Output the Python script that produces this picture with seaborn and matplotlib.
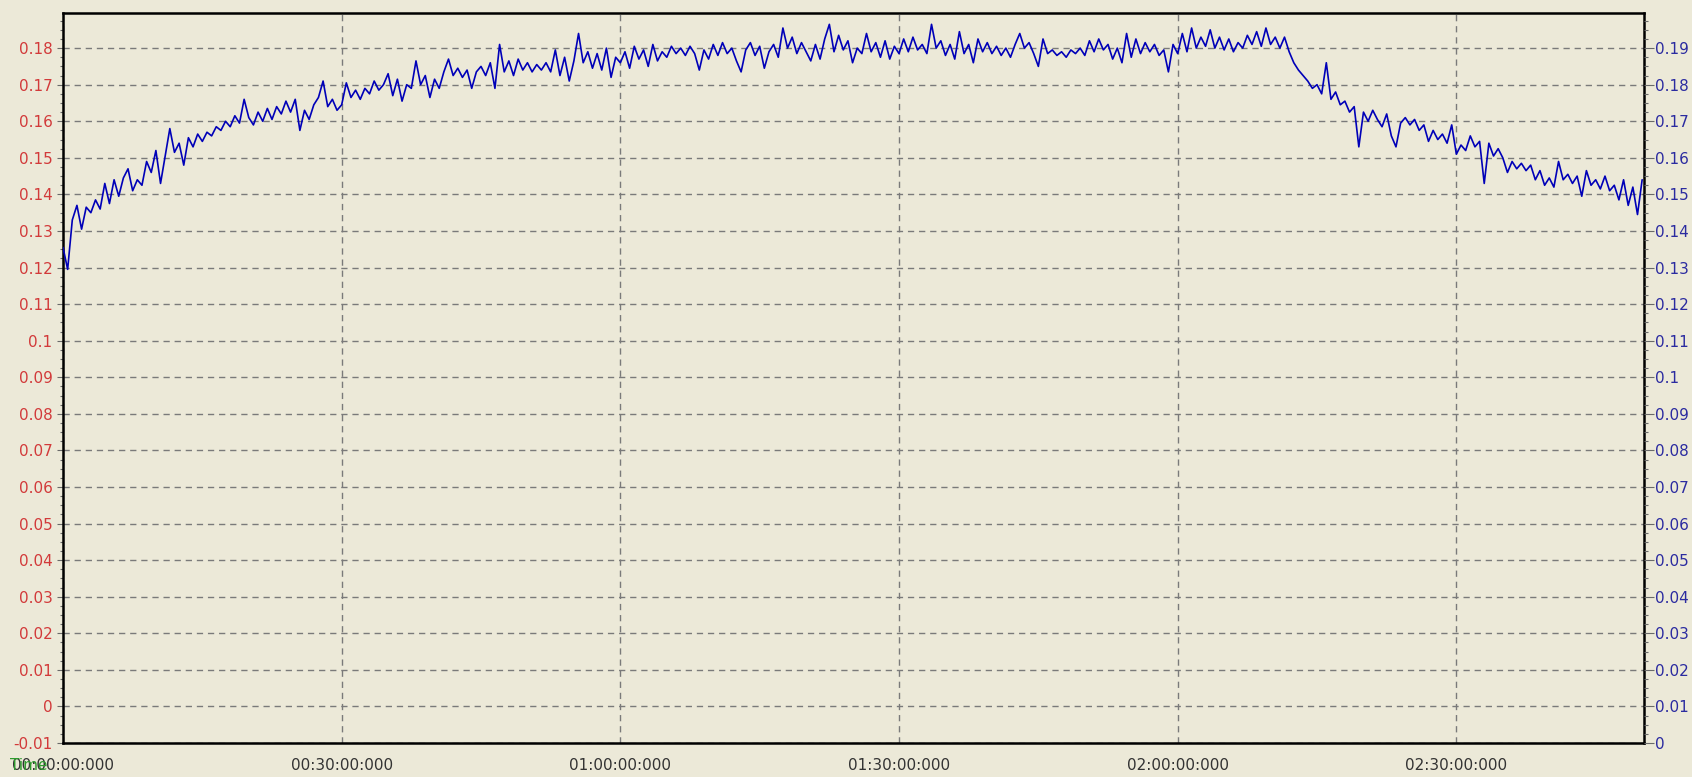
import numpy as np
import pandas as pd
import matplotlib
matplotlib.use("Agg")
import matplotlib.pyplot as plt
import seaborn as sns
from matplotlib.ticker import FixedLocator, MultipleLocator, FuncFormatter

# Sensor reading sampled every half minute, one row per 10 minutes
sample_step_min = 0.5
reading = [
    0.1255, 0.1195, 0.1330, 0.1370, 0.1305, 0.1365, 0.1350, 0.1385, 0.1360, 0.1430,
    0.1375, 0.1440, 0.1395, 0.1445, 0.1470, 0.1410, 0.1440, 0.1425, 0.1490, 0.1460,
    0.1520, 0.1430, 0.1505, 0.1580, 0.1515, 0.1540, 0.1480, 0.1555, 0.1530, 0.1565,
    0.1545, 0.1570, 0.1560, 0.1585, 0.1575, 0.1600, 0.1585, 0.1615, 0.1595, 0.1660,
    0.1610, 0.1590, 0.1625, 0.1600, 0.1635, 0.1605, 0.1640, 0.1620, 0.1655, 0.1625,
    0.1660, 0.1575, 0.1630, 0.1605, 0.1645, 0.1665, 0.1710, 0.1640, 0.1660, 0.1630,
    0.1645, 0.1705, 0.1665, 0.1685, 0.1660, 0.1690, 0.1675, 0.1710, 0.1685, 0.1700,
    0.1730, 0.1670, 0.1715, 0.1655, 0.1700, 0.1690, 0.1765, 0.1700, 0.1725, 0.1665,
    0.1715, 0.1690, 0.1735, 0.1770, 0.1725, 0.1745, 0.1720, 0.1740, 0.1690, 0.1735,
    0.1750, 0.1725, 0.1760, 0.1690, 0.1810, 0.1735, 0.1765, 0.1725, 0.1770, 0.1740,
    0.1760, 0.1735, 0.1755, 0.1740, 0.1760, 0.1735, 0.1795, 0.1725, 0.1775, 0.1710,
    0.1765, 0.1840, 0.1760, 0.1790, 0.1745, 0.1785, 0.1740, 0.1800, 0.1720, 0.1775,
    0.1760, 0.1790, 0.1745, 0.1805, 0.1770, 0.1795, 0.1750, 0.1810, 0.1765, 0.1790,
    0.1775, 0.1805, 0.1785, 0.1800, 0.1780, 0.1805, 0.1785, 0.1740, 0.1795, 0.1770,
    0.1810, 0.1780, 0.1815, 0.1785, 0.1800, 0.1765, 0.1735, 0.1795, 0.1815, 0.1780,
    0.1805, 0.1745, 0.1790, 0.1810, 0.1775, 0.1855, 0.1800, 0.1830, 0.1785, 0.1815,
    0.1790, 0.1765, 0.1810, 0.1770, 0.1825, 0.1865, 0.1790, 0.1835, 0.1795, 0.1820,
    0.1760, 0.1800, 0.1785, 0.1840, 0.1790, 0.1815, 0.1775, 0.1820, 0.1770, 0.1805,
    0.1785, 0.1825, 0.1790, 0.1830, 0.1795, 0.1810, 0.1785, 0.1865, 0.1800, 0.1820,
    0.1780, 0.1810, 0.1770, 0.1845, 0.1785, 0.1810, 0.1760, 0.1825, 0.1790, 0.1815,
    0.1785, 0.1805, 0.1780, 0.1800, 0.1775, 0.1810, 0.1840, 0.1800, 0.1815, 0.1785,
    0.1750, 0.1825, 0.1785, 0.1795, 0.1780, 0.1790, 0.1775, 0.1795, 0.1785, 0.1800,
    0.1780, 0.1820, 0.1790, 0.1825, 0.1795, 0.1810, 0.1770, 0.1800, 0.1760, 0.1840,
    0.1775, 0.1825, 0.1785, 0.1815, 0.1790, 0.1810, 0.1780, 0.1795, 0.1735, 0.1810,
    0.1785, 0.1840, 0.1790, 0.1855, 0.1800, 0.1830, 0.1805, 0.1850, 0.1800, 0.1830,
    0.1795, 0.1825, 0.1790, 0.1815, 0.1800, 0.1835, 0.1810, 0.1845, 0.1805, 0.1855,
    0.1810, 0.1830, 0.1800, 0.1830, 0.1790, 0.1760, 0.1740, 0.1725, 0.1710, 0.1690,
    0.1700, 0.1675, 0.1760, 0.1660, 0.1680, 0.1645, 0.1655, 0.1625, 0.1640, 0.1530,
    0.1625, 0.1600, 0.1630, 0.1605, 0.1585, 0.1620, 0.1560, 0.1530, 0.1595, 0.1610,
    0.1590, 0.1605, 0.1575, 0.1590, 0.1545, 0.1575, 0.1550, 0.1565, 0.1540, 0.1590,
    0.1510, 0.1535, 0.1520, 0.1560, 0.1530, 0.1545, 0.1430, 0.1540, 0.1505, 0.1525,
    0.1500, 0.1460, 0.1490, 0.1470, 0.1485, 0.1465, 0.1480, 0.1440, 0.1465, 0.1425,
    0.1445, 0.1420, 0.1490, 0.1440, 0.1455, 0.1430, 0.1450, 0.1395, 0.1465, 0.1425,
    0.1440, 0.1415, 0.1450, 0.1410, 0.1425, 0.1385, 0.1440, 0.1370, 0.1420, 0.1345,
    0.1440,
]

time_ticks_min = [0, 30, 60, 90, 120, 150]
time_tick_labels = ["00:00:00:000", "00:30:00:000", "01:00:00:000",
                    "01:30:00:000", "02:00:00:000", "02:30:00:000"]
left_ticks = [round(-0.01 + 0.01 * i, 2) for i in range(20)]
right_ticks = [round(0.01 * i, 2) for i in range(20)]

df = pd.DataFrame({
    "minutes": np.arange(len(reading)) * sample_step_min,
    "value": reading,
})

BG = "#ECE9D8"
W, H = 1692, 777
left_px, right_px, top_px, bottom_px = 63, 1644, 13, 743

sns.set_style("white")
plt.rcParams["font.family"] = ["DejaVu Sans"]

fig = plt.figure(figsize=(W / 100, H / 100), dpi=100, facecolor=BG)
ax = fig.add_axes([left_px / W, 1 - bottom_px / H,
                   (right_px - left_px) / W, (bottom_px - top_px) / H])
ax.set_facecolor(BG)

sns.lineplot(data=df, x="minutes", y="value", ax=ax, estimator=None,
             color="#0000B8", linewidth=1.2, zorder=3)

ax.set_xlim(0, 170.2)
ax.set_ylim(-0.01, 0.1896)
ax.set_xlabel("")
ax.set_ylabel("")

fmt = FuncFormatter(lambda v, p: f"{round(v, 2):g}")

ax.yaxis.set_major_locator(FixedLocator(left_ticks))
ax.yaxis.set_minor_locator(MultipleLocator(0.0025))
ax.yaxis.set_major_formatter(fmt)
ax.xaxis.set_major_locator(FixedLocator(time_ticks_min))
ax.xaxis.set_minor_locator(MultipleLocator(7.5))
ax.set_xticklabels(time_tick_labels)

ax.grid(True, which="major", color="#7a7a7a", linestyle=(0, (4.5, 3.5)), linewidth=1.0)
ax.set_axisbelow(True)

for side in ["left", "right", "top", "bottom"]:
    ax.spines[side].set_visible(True)
    ax.spines[side].set_color("black")
    ax.spines[side].set_linewidth(1.8)

ax.tick_params(axis="y", which="major", direction="out", length=4.5, width=0.8,
               color="#6a6a6a", labelsize=11, labelcolor="#D23A3A", pad=3)
ax.tick_params(axis="y", which="minor", direction="out", length=2.5, width=0.8,
               color="#6a6a6a")
ax.tick_params(axis="x", which="both", direction="out", length=3, width=0.8,
               color="#6a6a6a", labelsize=11, labelcolor="#333333", pad=8)

# Secondary axis on the right, offset by one grid step
ax2 = ax.twinx()
ax2.set_ylim(0, 0.1996)
ax2.yaxis.set_major_locator(FixedLocator(right_ticks))
ax2.yaxis.set_minor_locator(MultipleLocator(0.0025))
ax2.yaxis.set_major_formatter(fmt)
ax2.tick_params(axis="y", which="major", direction="out", length=7, width=0.8,
                color="#6a6a6a", labelsize=11, labelcolor="#2B2BA0", pad=1)
ax2.tick_params(axis="y", which="minor", direction="out", length=3, width=0.8,
                color="#6a6a6a")
for side in ["left", "right", "top", "bottom"]:
    ax2.spines[side].set_visible(False)

# Axis caption sitting over the first time label
trans, _, _ = ax.get_xaxis_text1_transform(3 + 8)
ax.text((10 - left_px) / (right_px - left_px) * 170.2, 0, "Time", transform=trans,
        va="top", ha="left", fontsize=11, color="#2E9A2E", clip_on=False)

fig.savefig("out.png", dpi=100, facecolor=BG)
